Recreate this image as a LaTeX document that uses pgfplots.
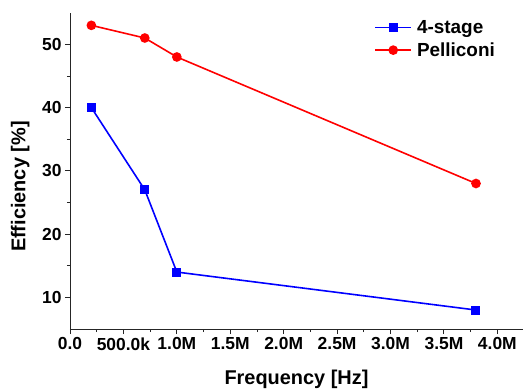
\documentclass[border=0pt]{standalone}
\usepackage{fontspec}
\setmainfont{Liberation Sans}
\usepackage{pgfplots}
\pgfplotsset{compat=1.18}
\begin{document}
\begin{tikzpicture}
\begin{axis}[
  scale only axis,
  width=453bp, height=316.3bp,
  xmin=0, xmax=4.24, ymin=5, ymax=55,
  axis x line*=bottom, axis y line*=left,
  axis line style={-, line width=0.9pt, black!85},
  tick align=outside,
  major tick length=5bp, minor tick length=3bp,
  tick style={line width=0.9pt, black!85},
  xtick={0,0.5,...,4},
  xticklabels={0.0,500.0k,1.0M,1.5M,2.0M,2.5M,3.0M,3.5M,4.0M},
  ytick={10,20,30,40,50},
  minor x tick num=1, minor y tick num=1,
  /pgf/number format/assume math mode=true,
  tick label style={font=\bfseries\fontsize{17.5}{19}\selectfont},
  xlabel={Frequency [Hz]}, ylabel={Efficiency [\%]},
  label style={font=\bfseries\fontsize{20}{22}\selectfont},
  xlabel style={at={(axis description cs:0.5,-0.16)}, anchor=center},
  ylabel style={at={(axis description cs:-0.11,0.45)}, anchor=center, rotate=0},
  legend style={draw=none, fill=none, at={(axis description cs:0.665,0.99)}, anchor=north west,
    font=\bfseries\fontsize{19}{21}\selectfont, row sep=4pt,
    nodes={inner xsep=5pt}},
  legend cell align=left,
  legend image code/.code={\draw[mark repeat=2,mark phase=2,#1] plot coordinates {(0bp,0bp)(18bp,0bp)(36bp,0bp)};},
]
\addplot[blue, line width=1.6pt, mark=square*, mark size=3.7bp, mark options={solid}] coordinates {
  (0.2,40) (0.7,27) (1.0,14) (3.8,8)
};
\addlegendentry{4-stage}
\addplot[red, line width=1.6pt, mark=*, mark size=4bp, mark options={solid}] coordinates {
  (0.2,53) (0.7,51) (1.0,48) (3.8,28)
};
\addlegendentry{Pelliconi}
\coordinate (sw) at (rel axis cs:0,0);
\coordinate (ne) at (rel axis cs:1,1);
\end{axis}
\pgfresetboundingbox
\path ([shift={(-70bp,-60bp)}]sw) rectangle ([shift={(0bp,12.7bp)}]ne);
\end{tikzpicture}
\end{document}
